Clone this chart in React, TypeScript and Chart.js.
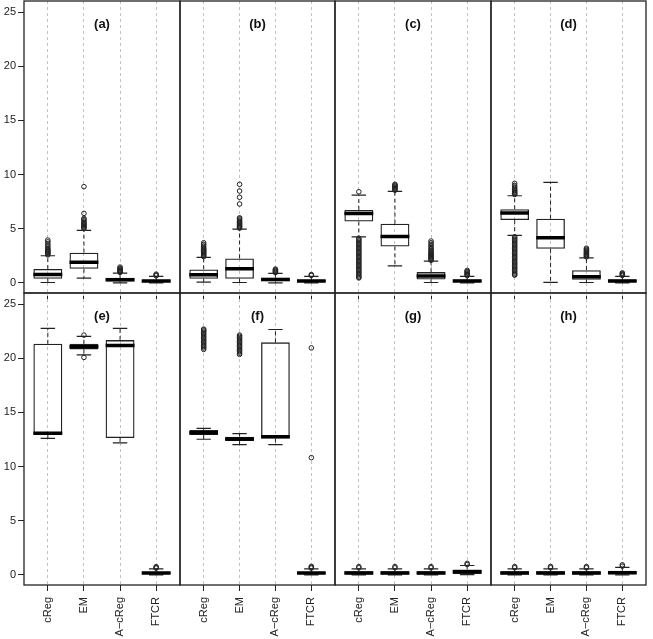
import React, { useEffect, useRef } from 'react';
import { Chart, registerables } from 'chart.js';
Chart.register(...registerables);

// ---------- data ----------
const CATEGORIES = ['cReg', 'EM', 'A\u2212cReg', 'FTCR'];
const PANEL_LABELS = ['(a)', '(b)', '(c)', '(d)', '(e)', '(f)', '(g)', '(h)'];
const Y_TICKS = [0, 5, 10, 15, 20, 25];
const Y_MIN = -0.94;
const Y_MAX = 26.03;
const X_MIN = 0.34;
const X_MAX = 4.66;

// one row per panel (a..h), one value per category
const WHISKER_LOW = [
  [0.03, 0.43, 0.0, 0.0],
  [0.06, 0.03, 0.0, 0.0],
  [4.25, 1.57, 0.03, 0.0],
  [4.38, 0.04, 0.03, 0.0],
  [12.61, 20.32, 12.18, 0.0],
  [12.52, 12.02, 12.02, 0.0],
  [0.0, 0.0, 0.0, 0.02],
  [0.0, 0.0, 0.0, 0.0],
];
const Q1 = [
  [0.37, 1.3, 0.13, 0.06],
  [0.37, 0.37, 0.14, 0.06],
  [5.67, 3.36, 0.31, 0.06],
  [5.8, 3.14, 0.28, 0.06],
  [12.92, 20.82, 12.64, 0.06],
  [12.92, 12.36, 12.58, 0.06],
  [0.04, 0.04, 0.04, 0.08],
  [0.04, 0.04, 0.04, 0.05],
];
const MEDIAN = [
  [0.78, 1.91, 0.28, 0.16],
  [0.74, 1.3, 0.3, 0.16],
  [6.41, 4.29, 0.62, 0.16],
  [6.44, 4.16, 0.56, 0.16],
  [13.07, 21.06, 21.19, 0.16],
  [13.13, 12.55, 12.76, 0.16],
  [0.16, 0.16, 0.16, 0.28],
  [0.16, 0.16, 0.16, 0.2],
];
const Q3 = [
  [1.27, 2.78, 0.46, 0.28],
  [1.24, 2.25, 0.48, 0.28],
  [6.72, 5.46, 0.99, 0.3],
  [6.79, 5.92, 1.17, 0.3],
  [21.34, 21.34, 21.68, 0.28],
  [13.38, 12.76, 21.47, 0.28],
  [0.33, 0.33, 0.33, 0.5],
  [0.33, 0.33, 0.33, 0.38],
];
const WHISKER_HIGH = [
  [2.5, 4.84, 0.9, 0.59],
  [2.35, 4.96, 0.87, 0.6],
  [8.1, 8.45, 2.0, 0.59],
  [8.04, 9.28, 2.31, 0.6],
  [22.76, 22.02, 22.76, 0.55],
  [13.53, 13.04, 22.66, 0.55],
  [0.55, 0.55, 0.55, 0.86],
  [0.55, 0.55, 0.55, 0.68],
];
const OUTLIERS = [
  [
    [2.58, 2.66, 2.74, 2.82, 2.9, 2.98, 3.06, 3.15, 3.3, 3.45, 3.6, 3.78, 3.95],
    [5.0, 5.08, 5.16, 5.24, 5.32, 5.4, 5.5, 5.6, 5.72, 5.85, 5.95, 6.41, 8.88],
    [0.96, 1.02, 1.08, 1.14, 1.2, 1.28, 1.36, 1.45],
    [0.65, 0.72, 0.8],
  ],
  [
    [2.42, 2.5, 2.58, 2.66, 2.74, 2.82, 2.9, 2.98, 3.06, 3.15, 3.25, 3.4, 3.55, 3.7],
    [5.05, 5.12, 5.2, 5.28, 5.36, 5.44, 5.52, 5.6, 5.7, 5.8, 5.92, 6.0, 7.28, 7.9, 8.48, 9.1],
    [0.94, 1.0, 1.06, 1.12, 1.2, 1.27],
    [0.68, 0.76],
  ],
  [
    [8.41, 4.12, 4.0, 3.88, 3.76, 3.64, 3.52, 3.4, 3.28, 3.16, 3.04, 2.92, 2.8, 2.68, 2.56, 2.44, 2.32, 2.2, 2.08, 1.96, 1.84, 1.72, 1.6, 1.48, 1.36, 1.24, 1.12, 1.0, 0.88, 0.76, 0.64, 0.52, 0.45],
    [8.55, 8.62, 8.7, 8.78, 8.86, 8.94, 9.02, 9.1],
    [2.08, 2.16, 2.24, 2.32, 2.4, 2.48, 2.56, 2.64, 2.72, 2.8, 2.9, 3.0, 3.12, 3.25, 3.4, 3.55, 3.7, 3.86],
    [0.66, 0.74, 0.82, 0.9, 0.98, 1.06, 1.15],
  ],
  [
    [8.16, 8.24, 8.32, 8.4, 8.5, 8.6, 8.72, 8.85, 9.0, 9.19, 4.25, 4.13, 4.01, 3.89, 3.77, 3.65, 3.53, 3.41, 3.29, 3.17, 3.05, 2.93, 2.81, 2.69, 2.57, 2.45, 2.33, 2.21, 2.09, 1.97, 1.85, 1.73, 1.61, 1.49, 1.37, 1.25, 1.13, 1.01, 0.89, 0.77, 0.71],
    [],
    [2.4, 2.47, 2.54, 2.61, 2.68, 2.76, 2.84, 2.92, 3.0, 3.1, 3.2],
    [0.68, 0.76, 0.84, 0.92],
  ],
  [
    [],
    [22.14, 20.08],
    [],
    [0.62, 0.68, 0.75],
  ],
  [
    [20.82, 20.95, 21.08, 21.2, 21.32, 21.44, 21.56, 21.68, 21.8, 21.92, 22.04, 22.16, 22.28, 22.4, 22.52, 22.62, 22.69],
    [20.36, 20.48, 20.6, 20.72, 20.84, 20.96, 21.08, 21.2, 21.32, 21.44, 21.56, 21.68, 21.8, 21.92, 22.04, 22.14],
    [],
    [0.62, 0.7, 0.78, 10.82, 20.96],
  ],
  [
    [0.65, 0.76],
    [0.65, 0.76],
    [0.65, 0.76],
    [0.95, 1.06],
  ],
  [
    [0.65, 0.76],
    [0.65, 0.77],
    [0.65, 0.76],
    [0.8, 0.92],
  ],
];

// ---------- layout ----------
const COL_X = [24, 180, 335, 491, 646];
const ROW_Y = [1, 293, 585];
const PAD = 3;
const Y_AXIS_W = 24;
const X_AXIS_H_BOTTOM = 54;
const X_AXIS_H_TOP = 7;
const FONT_FAMILY = '"Liberation Sans", Arial, Helvetica, sans-serif';
const INK = '#222';

function geom(k: number) {
  const r = Math.floor(k / 4);
  const c = k % 4;
  const yw = c === 0 ? Y_AXIS_W : 0;
  const xh = r === 1 ? X_AXIS_H_BOTTOM : X_AXIS_H_TOP;
  const padLeft = c === 0 ? 0 : PAD;
  const left = COL_X[c] - yw - padLeft;
  const top = ROW_Y[r] - PAD;
  const w = COL_X[c + 1] + PAD - left;
  const h = ROW_Y[r + 1] + xh - top;
  return { r, c, yw, xh, padLeft, left, top, w, h };
}

const panelDecor = {
  id: 'panelDecor',
  afterDatasetsDraw(chart: any, _args: any, opts: any) {
    const { ctx, chartArea: a } = chart;
    ctx.save();
    ctx.strokeStyle = INK;
    ctx.lineWidth = 1.3;
    ctx.strokeRect(a.left, a.top, a.right - a.left, a.bottom - a.top);
    ctx.fillStyle = '#111';
    ctx.font = `bold 13px ${FONT_FAMILY}`;
    ctx.textAlign = 'center';
    ctx.textBaseline = 'middle';
    ctx.fillText(opts.label, (a.left + a.right) / 2, a.top + 23);
    ctx.restore();
  },
};

function makeChart(canvas: HTMLCanvasElement, k: number) {
  const g = geom(k);
  const boxData = CATEGORIES.map((_, i) => ({ x: i + 1, y: [Q1[k][i], Q3[k][i]] }));
  const whiskers: any[] = [];
  const caps: any[] = [];
  const medians: any[] = [];
  const outliers: any[] = [];
  CATEGORIES.forEach((_, i) => {
    const x = i + 1;
    whiskers.push({ x, y: Q3[k][i] }, { x, y: WHISKER_HIGH[k][i] }, { x, y: null });
    whiskers.push({ x, y: Q1[k][i] }, { x, y: WHISKER_LOW[k][i] }, { x, y: null });
    caps.push({ x: x - 0.2, y: WHISKER_HIGH[k][i] }, { x: x + 0.2, y: WHISKER_HIGH[k][i] }, { x: x + 0.2, y: null });
    caps.push({ x: x - 0.2, y: WHISKER_LOW[k][i] }, { x: x + 0.2, y: WHISKER_LOW[k][i] }, { x: x + 0.2, y: null });
    medians.push({ x: x - 0.4, y: MEDIAN[k][i] }, { x: x + 0.4, y: MEDIAN[k][i] }, { x: x + 0.4, y: null });
    OUTLIERS[k][i].forEach((v) => outliers.push({ x, y: v }));
  });

  return new Chart(canvas, {
    type: 'bar',
    data: {
      datasets: [
        {
          type: 'bar',
          order: 3,
          data: boxData,
          backgroundColor: 'rgba(0,0,0,0)',
          borderColor: INK,
          borderWidth: 1.3,
          borderSkipped: false,
          barPercentage: 0.8,
          categoryPercentage: 1,
        },
        {
          type: 'line',
          order: 4,
          data: whiskers,
          borderColor: INK,
          borderWidth: 1,
          borderDash: [4, 3],
          pointRadius: 0,
          spanGaps: false,
          fill: false,
        },
        {
          type: 'line',
          order: 2,
          data: caps,
          borderColor: INK,
          borderWidth: 1.2,
          pointRadius: 0,
          spanGaps: false,
          fill: false,
        },
        {
          type: 'line',
          order: 1,
          data: medians,
          borderColor: '#000',
          borderWidth: 3.5,
          borderCapStyle: 'butt',
          pointRadius: 0,
          spanGaps: false,
          fill: false,
        },
        {
          type: 'scatter',
          order: 0,
          data: outliers,
          pointRadius: 2.3,
          pointBorderWidth: 1,
          pointBackgroundColor: 'rgba(0,0,0,0)',
          pointBorderColor: INK,
          showLine: false,
        },
      ] as any,
    },
    options: {
      animation: false,
      responsive: false,
      devicePixelRatio: 1,
      events: [],
      layout: { autoPadding: false, padding: { top: PAD, right: PAD, left: g.padLeft, bottom: 0 } },
      plugins: {
        legend: { display: false },
        tooltip: { enabled: false },
        title: { display: false },
        panelDecor: { label: PANEL_LABELS[k] },
      } as any,
      scales: {
        x: {
          type: 'linear',
          position: 'bottom',
          min: X_MIN,
          max: X_MAX,
          offset: false,
          afterBuildTicks: (s: any) => {
            s.ticks = CATEGORIES.map((_, i) => ({ value: i + 1 }));
          },
          afterFit: (s: any) => {
            s.height = g.xh;
            s.paddingLeft = 0;
            s.paddingRight = 0;
            s.paddingTop = 0;
            s.paddingBottom = 0;
          },
          grid: {
            offset: false,
            color: '#c2c2c2',
            lineWidth: 1,
            drawTicks: true,
            tickLength: 6,
            tickColor: INK,
            tickWidth: 1,
          },
          border: { display: false, dash: [3, 3] },
          ticks: {
            display: g.r === 1,
            autoSkip: false,
            minRotation: 90,
            maxRotation: 90,
            padding: 6,
            color: INK,
            font: { size: 11, family: FONT_FAMILY },
            callback: (_v: any, i: number) => CATEGORIES[i],
          },
        },
        y: {
          type: 'linear',
          display: g.c === 0,
          min: Y_MIN,
          max: Y_MAX,
          afterBuildTicks: (s: any) => {
            s.ticks = Y_TICKS.map((v) => ({ value: v }));
          },
          afterFit: (s: any) => {
            s.width = g.yw;
            s.paddingLeft = 0;
            s.paddingRight = 0;
            s.paddingTop = 0;
            s.paddingBottom = 0;
          },
          grid: {
            drawOnChartArea: false,
            drawTicks: true,
            tickLength: 6,
            color: INK,
            tickColor: INK,
          },
          border: { display: false },
          ticks: {
            padding: 2,
            color: INK,
            font: { size: 11, family: FONT_FAMILY },
          },
        },
      } as any,
    },
    plugins: [panelDecor as any],
  });
}

export default function App() {
  const refs = useRef<(HTMLCanvasElement | null)[]>([]);
  useEffect(() => {
    const charts = PANEL_LABELS.map((_, k) => makeChart(refs.current[k] as HTMLCanvasElement, k));
    return () => charts.forEach((c) => c.destroy());
  }, []);
  return (
    <div
      style={{
        position: 'fixed',
        left: 0,
        top: 0,
        width: 653,
        height: 639,
        background: '#fff',
        overflow: 'hidden',
      }}
    >
      {PANEL_LABELS.map((_, k) => {
        const g = geom(k);
        return (
          <canvas
            key={k}
            ref={(el) => {
              refs.current[k] = el;
            }}
            width={g.w}
            height={g.h}
            style={{ position: 'absolute', left: g.left, top: g.top, width: g.w, height: g.h }}
          />
        );
      })}
    </div>
  );
}
